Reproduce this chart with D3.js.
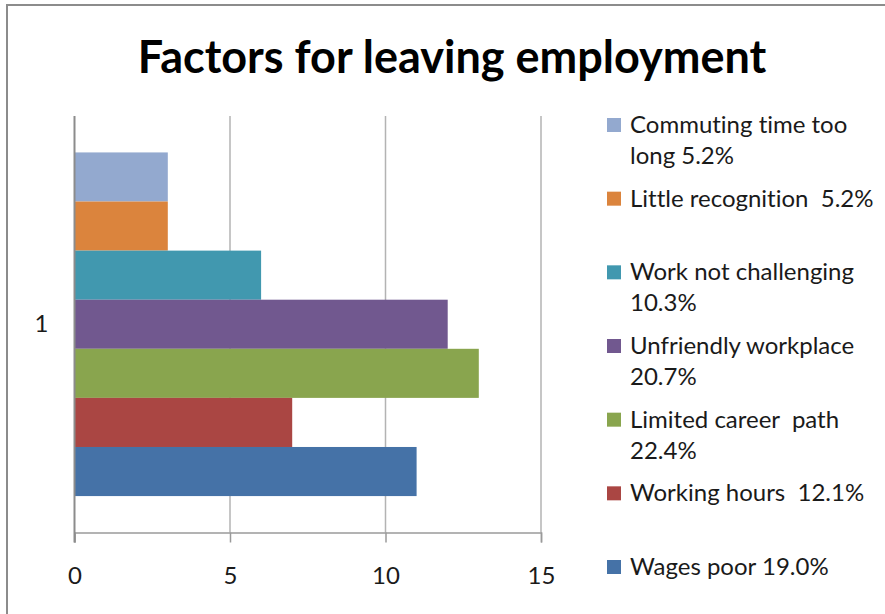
<!DOCTYPE html>
<html>
<head>
<meta charset="utf-8">
<script src="https://cdn.jsdelivr.net/npm/d3@7"></script>
<style>
  body { margin: 0; background: #fff; }
  text { font-family: Lato, "Open Sans", sans-serif; fill: #1a1a1a; font-variant-ligatures: none; }
</style>
</head>
<body>
<svg id="chart" width="885" height="614"></svg>
<script>
// data, top to bottom as drawn
const categories = ['1'];
const seriesNames = ['Commuting time too long', 'Little recognition', 'Work not challenging',
  'Unfriendly workplace', 'Limited career path', 'Working hours', 'Wages poor'];
const seriesValues = [3, 3, 6, 12, 13, 7, 11];
const legendLines = [
  ['Commuting time too', 'long 5.2%'],
  ['Little recognition  5.2%'],
  ['Work not challenging', '10.3%'],
  ['Unfriendly workplace', '20.7%'],
  ['Limited career  path', '22.4%'],
  ['Working hours  12.1%'],
  ['Wages poor 19.0%']
];
const seriesColors = ['#93a9cf', '#db843d', '#4198af', '#71588f', '#89a54e', '#aa4643', '#4572a7'];
const xTicks = [0, 5, 10, 15];

const svg = d3.select('#chart');

// chart area border (cut off on right and bottom)
svg.append('path')
  .attr('d', 'M7,614V5H885')
  .attr('fill', 'none')
  .attr('stroke', '#8c8c8c')
  .attr('stroke-width', 2);

svg.append('text')
  .attr('x', 452)
  .attr('y', 73)
  .attr('text-anchor', 'middle')
  .style('font-size', '45px')
  .style('font-weight', 'bold')
  .style('fill', '#000')
  .text('Factors for leaving employment');

const plot = { left: 74.5, right: 541, top: 116, bottom: 532.5 };

const x = d3.scaleLinear().domain([0, 15]).range([plot.left, plot.right]);
const yCat = d3.scaleBand().domain(categories).range([plot.top, plot.bottom]).paddingOuter(0.106);
const ySer = d3.scaleBand().domain(seriesNames).range([0, yCat.bandwidth()]);

// gridlines
svg.append('g')
  .selectAll('line')
  .data(xTicks.slice(1))
  .enter()
  .append('line')
  .attr('x1', (d) => x(d))
  .attr('x2', (d) => x(d))
  .attr('y1', plot.top)
  .attr('y2', plot.bottom)
  .attr('stroke', '#b3b3b3')
  .attr('stroke-width', 1.5);

// bars
svg.append('g')
  .selectAll('rect')
  .data(seriesNames)
  .enter()
  .append('rect')
  .attr('x', x(0))
  .attr('y', (d) => yCat('1') + ySer(d))
  .attr('width', (d, i) => x(seriesValues[i]) - x(0))
  .attr('height', ySer.bandwidth())
  .attr('fill', (d, i) => seriesColors[i]);

// x axis
const xAxis = svg.append('g')
  .attr('transform', `translate(0,${plot.bottom})`)
  .call(d3.axisBottom(x).tickValues(xTicks).tickSize(10).tickPadding(24));
xAxis.select('.domain').attr('stroke', '#9a9a9a').attr('stroke-width', 1.5);
xAxis.selectAll('.tick line').attr('stroke', '#9a9a9a').attr('stroke-width', 1.5);
xAxis.selectAll('.tick text')
  .style('font-family', 'Lato, sans-serif')
  .style('font-size', '24px')
  .attr('fill', '#1a1a1a');

// y axis
const yAxis = svg.append('g')
  .attr('transform', `translate(${plot.left},0)`)
  .call(d3.axisLeft(yCat).tickSize(0).tickPadding(26));
yAxis.select('.domain').attr('stroke', '#8c8c8c').attr('stroke-width', 2)
  .attr('d', `M0,${plot.top}V${plot.bottom + 10}`);
yAxis.selectAll('.tick text')
  .style('font-family', 'Lato, sans-serif')
  .style('font-size', '24px')
  .attr('fill', '#1a1a1a');

// legend
const ly = d3.scalePoint().domain(seriesNames).range([118, 560]);
const legend = svg.append('g')
  .selectAll('g')
  .data(seriesNames)
  .enter()
  .append('g')
  .attr('transform', (d) => `translate(607,${ly(d)})`);

legend.append('rect')
  .attr('width', 14)
  .attr('height', 14)
  .attr('fill', (d, i) => seriesColors[i]);

legend.append('text')
  .attr('x', 23)
  .attr('y', 15)
  .style('font-size', '24px')
  .style('white-space', 'pre')
  .selectAll('tspan')
  .data((d, i) => legendLines[i])
  .enter()
  .append('tspan')
  .attr('x', 23)
  .attr('dy', (d, j) => j === 0 ? 0 : 31)
  .text((d) => d);
</script>
</body>
</html>
